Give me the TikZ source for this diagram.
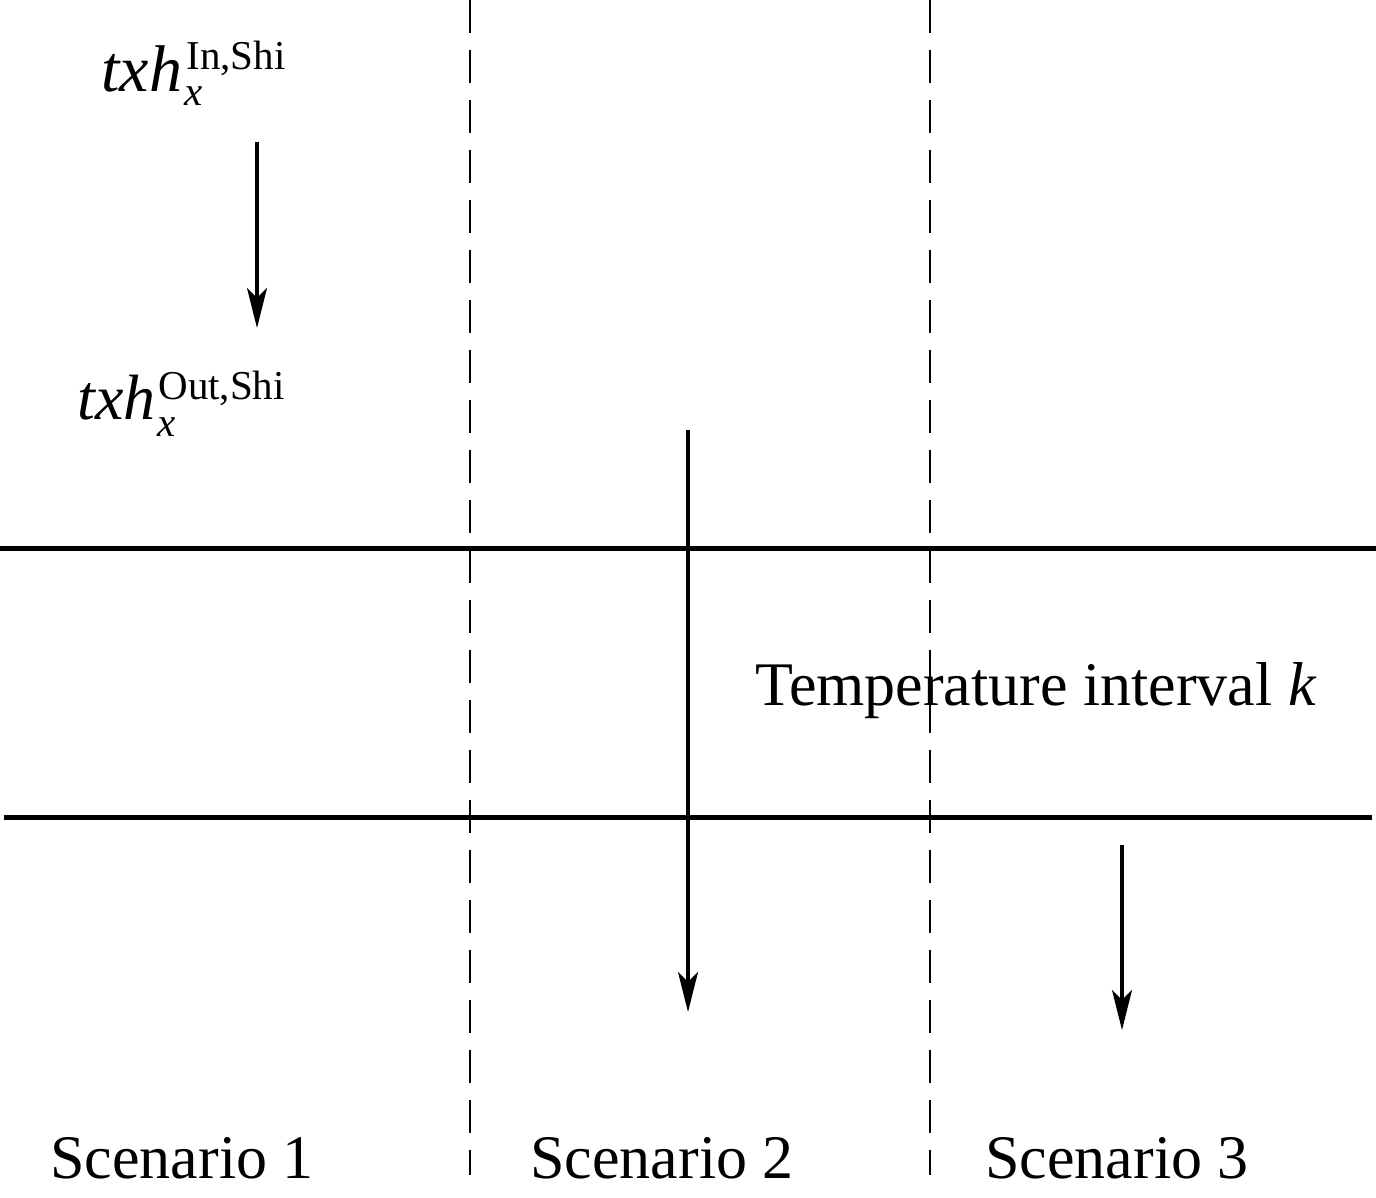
\documentclass[tikz,border=0pt]{standalone}
\usepackage{fontspec}
\setmainfont{Liberation Serif}
\usetikzlibrary{arrows.meta}
\begin{document}
\begin{tikzpicture}[x=0.5pt,y=-0.5pt,
  thickline/.style={line width=2.5pt},
  divider/.style={line width=1.4pt, dash pattern=on 16.5pt off 8.5pt},
  flow/.style={line width=1.6pt, -{Stealth[length=20pt,width=10pt,inset=5pt]}},
  lbl/.style={font=\fontsize{31pt}{36pt}\selectfont, inner sep=0pt, anchor=base west},
  mainvar/.style={lbl, font=\fontsize{33pt}{38pt}\selectfont},
  scr/.style={font=\fontsize{20.5pt}{24pt}\selectfont, inner sep=0pt, anchor=base west}]
\useasboundingbox (0,0) rectangle (1376,1198);
% coordinates
\coordinate (h1l) at (0,548);   \coordinate (h1r) at (1376,548);
\coordinate (h2l) at (4,817);   \coordinate (h2r) at (1372,817);
\coordinate (d1t) at (470,0);   \coordinate (d1b) at (470,1175);
\coordinate (d2t) at (930,0);   \coordinate (d2b) at (930,1175);
\coordinate (a1s) at (257,142); \coordinate (a1e) at (257,328);
\coordinate (a2s) at (688,430); \coordinate (a2e) at (688,1012);
\coordinate (a3s) at (1122,845); \coordinate (a3e) at (1122,1030);
% lines
\draw[thickline] (h1l) -- (h1r);
\draw[thickline] (h2l) -- (h2r);
\draw[divider] (d1t) -- (d1b);
\draw[divider] (d2t) -- (d2b);
\draw[flow] (a1s) -- (a1e);
\draw[flow] (a2s) -- (a2e);
\draw[flow] (a3s) -- (a3e);
% labels
\node[mainvar] (tin) at (101,92) {\textit{txh}};
\node[scr] (tinsup) at (186,70) {In,Shi};
\node[scr] (tinsub) at (184,106) {\textit{x}};
\node[mainvar, font=\fontsize{32pt}{38pt}\selectfont] (tout) at (77,419) {\textit{txh}};
\node[scr] (toutsup) at (158,399) {Out,Shi};
\node[scr] (toutsub) at (157,436) {\textit{x}};
\node[lbl] (temp) at (755,705) {Temperature interval \textit{k}};
\node[lbl] (s1) at (50,1178) {Scenario 1};
\node[lbl] (s2) at (530,1178) {Scenario 2};
\node[lbl] (s3) at (985,1178) {Scenario 3};
\end{tikzpicture}
\end{document}
